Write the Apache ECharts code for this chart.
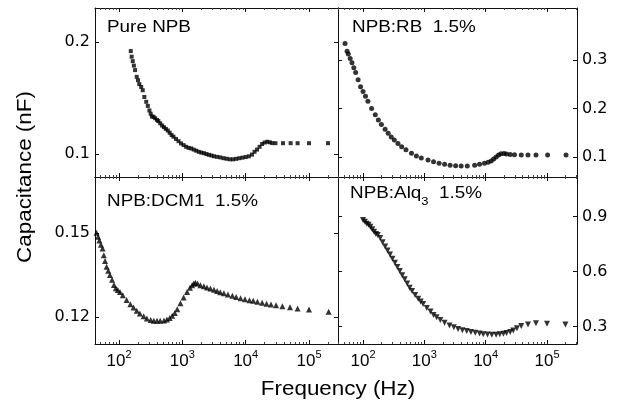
<!DOCTYPE html>
<html><head><meta charset="utf-8">
<script src="https://cdn.jsdelivr.net/npm/echarts@6/dist/echarts.min.js"></script>
<style>html,body{margin:0;padding:0;background:#fff}#c{width:621px;height:407px}</style>
</head><body><div id="c"></div>
<script>
// ---- data (x values are log10 of frequency in Hz) ----
const xTickExp = [2, 3, 4, 5];

const pureLogHz = [2.186,2.20,2.217,2.235,2.254,2.28,2.30,2.32,2.35,2.375,2.40,2.43,2.455,2.48,2.50,2.52,2.545,2.57,2.60,2.62,2.65,2.68,2.71,2.74,2.77,2.80,2.83,2.86,2.90,2.94,2.98,3.02,3.06,3.10,3.14,3.18,3.22,3.26,3.30,3.34,3.38,3.42,3.46,3.50,3.55,3.60,3.65,3.70,3.75,3.80,3.85,3.90,3.95,4.00,4.05,4.10,4.14,4.18,4.22,4.26,4.30,4.34,4.38,4.42,4.47,4.59,4.71,4.82,5.00,5.30];
const pureC = [0.192,0.187,0.183,0.179,0.175,0.169,0.166,0.1625,0.160,0.157,0.151,0.1467,0.143,0.139,0.136,0.1335,0.1333,0.132,0.1305,0.1295,0.1275,0.1255,0.124,0.1225,0.121,0.119,0.117,0.1155,0.1135,0.1115,0.1095,0.108,0.1065,0.1055,0.105,0.104,0.103,0.102,0.1013,0.1008,0.100,0.0993,0.0987,0.098,0.0975,0.097,0.0963,0.0958,0.0953,0.0953,0.0957,0.0963,0.0968,0.0973,0.098,0.0995,0.102,0.104,0.1065,0.109,0.1103,0.111,0.1105,0.1098,0.1097,0.1097,0.1097,0.1097,0.1097,0.1097];

const rbLogHz = [1.707,1.74,1.76,1.79,1.82,1.85,1.88,1.92,1.96,2.00,2.04,2.08,2.14,2.20,2.25,2.30,2.36,2.41,2.46,2.51,2.57,2.63,2.70,2.79,2.87,2.95,3.06,3.15,3.24,3.33,3.42,3.51,3.60,3.70,3.82,3.90,3.98,4.04,4.09,4.13,4.17,4.21,4.25,4.30,4.34,4.40,4.47,4.58,4.69,4.82,5.01,5.31];
const rbC = [0.334,0.318,0.312,0.303,0.294,0.284,0.274,0.259,0.245,0.235,0.225,0.215,0.200,0.187,0.176,0.167,0.157,0.149,0.141,0.135,0.128,0.121,0.115,0.1076,0.102,0.098,0.0938,0.090,0.087,0.085,0.083,0.082,0.0814,0.0815,0.083,0.085,0.087,0.089,0.092,0.096,0.100,0.104,0.1065,0.107,0.106,0.105,0.1045,0.104,0.104,0.104,0.104,0.104];

const dcmLogHz = [1.646,1.67,1.69,1.715,1.74,1.76,1.78,1.805,1.83,1.857,1.89,1.92,1.95,1.98,2.016,2.06,2.12,2.18,2.23,2.28,2.33,2.39,2.44,2.50,2.55,2.60,2.65,2.71,2.757,2.80,2.84,2.88,2.92,2.97,3.02,3.075,3.12,3.154,3.18,3.206,3.24,3.286,3.34,3.39,3.444,3.50,3.55,3.60,3.656,3.72,3.79,3.85,3.92,3.99,4.06,4.12,4.186,4.26,4.33,4.40,4.48,4.58,4.70,4.82,5.00,5.31];
const dcmC = [0.1501,0.1487,0.1473,0.1458,0.1445,0.1421,0.140,0.138,0.1365,0.135,0.1333,0.1315,0.1303,0.1297,0.129,0.1278,0.1261,0.1246,0.1234,0.1223,0.1213,0.1203,0.1195,0.119,0.1187,0.1187,0.1187,0.1188,0.1191,0.1197,0.1205,0.1215,0.1228,0.1249,0.127,0.129,0.1305,0.1314,0.132,0.1323,0.132,0.1314,0.131,0.1306,0.1302,0.1298,0.1293,0.1289,0.1285,0.1281,0.1276,0.1272,0.1267,0.1264,0.126,0.1258,0.1255,0.1251,0.1248,0.1245,0.1242,0.1239,0.1235,0.1231,0.1227,0.1219];

const alqLogHz = [2.00,2.03,2.06,2.09,2.12,2.15,2.18,2.21,2.24,2.28,2.32,2.36,2.40,2.44,2.48,2.52,2.56,2.60,2.64,2.68,2.72,2.76,2.80,2.85,2.90,2.94,2.98,3.04,3.10,3.15,3.20,3.26,3.33,3.41,3.48,3.55,3.62,3.69,3.76,3.83,3.90,3.96,4.03,4.10,4.17,4.23,4.29,4.34,4.40,4.45,4.51,4.58,4.69,4.82,5.00,5.30];
const alqC = [0.882,0.872,0.862,0.856,0.845,0.832,0.818,0.806,0.800,0.783,0.760,0.737,0.715,0.693,0.670,0.648,0.625,0.603,0.580,0.558,0.535,0.512,0.494,0.472,0.452,0.436,0.423,0.401,0.381,0.363,0.350,0.335,0.320,0.305,0.295,0.286,0.279,0.275,0.270,0.265,0.261,0.257,0.256,0.255,0.255,0.257,0.260,0.264,0.270,0.278,0.290,0.302,0.311,0.318,0.315,0.311];

const yTicksPure = [0.1, 0.2];
const yTicksRB = [0.1, 0.2, 0.3];
const yTicksDCM = [0.12, 0.15];
const yTicksAlq = [0.3, 0.6, 0.9];

const panelLabels = ['Pure NPB', 'NPB:RB  1.5%', 'NPB:DCM1  1.5%', 'NPB:Alq{s|3}  1.5%'];
const xTitle = 'Frequency (Hz)';
const yTitle = 'Capacitance (nF)';

// ---- layout ----
const panels = [
  {grid:{left:95, top:8, width:243, height:169}, xr:[1.621,5.458], yr:[0.0795,0.2305], yt:yTicksPure, xs:pureLogHz, ys:pureC, sym:'rect', size:4, rot:0, col:0, row:0, lab:[107,28]},
  {grid:{left:338, top:8, width:239, height:169}, xr:[1.592,5.489], yr:[0.0588,0.407], yt:yTicksRB, xs:rbLogHz, ys:rbC, sym:'circle', size:5, rot:0, col:1, row:0, lab:[352,28]},
  {grid:{left:95, top:177, width:243, height:167}, xr:[1.621,5.458], yr:[0.1104,0.17], yt:yTicksDCM, xs:dcmLogHz, ys:dcmC, sym:'triangle', size:6, rot:0, col:0, row:1, lab:[107,202]},
  {grid:{left:338, top:177, width:239, height:167}, xr:[1.592,5.489], yr:[0.204,1.117], yt:yTicksAlq, xs:alqLogHz, ys:alqC, sym:'triangle', size:6, rot:180, col:1, row:1, lab:[350,194]}
];

const minorVals = [];
for (let n = 1; n <= 5; n++) for (let k = 2; k <= 9; k++) minorVals.push(Math.log10(k) + n);

const lineStyle = {color:'#111', width:1};
const grids = [], xAxes = [], yAxes = [], series = [], graphics = [];

panels.forEach((p, i) => {
  grids.push(p.grid);
  const inRange = minorVals.filter(v => v > p.xr[0] && v < p.xr[1]);
  ['bottom','top'].forEach(pos => {
    xAxes.push({
      type:'value', gridIndex:i, position:pos, min:p.xr[0], max:p.xr[1],
      axisLine:{show:true, onZero:false, lineStyle},
      axisTick:{show:true, inside:true, length:4, customValues:xTickExp, lineStyle},
      axisLabel:{show: pos === 'bottom' && p.row === 1, customValues:xTickExp, margin:5,
        formatter: v => '{b|10}{s|' + Math.round(v) + '}',
        rich:{b:{fontSize:17, fontFamily:'Liberation Sans', color:'#000', lineHeight:24},
              s:{fontSize:11, fontFamily:'Liberation Sans', color:'#000', verticalAlign:'top', lineHeight:24}}},
      splitLine:{show:false}
    });
    xAxes.push({
      type:'value', gridIndex:i, position:pos, min:p.xr[0], max:p.xr[1],
      axisLine:{show:false, onZero:false},
      axisTick:{show:true, inside:true, length:2, customValues:inRange, lineStyle:{color:'#444', width:1}},
      axisLabel:{show:false}, splitLine:{show:false}
    });
  });
  ['left','right'].forEach(pos => {
    const showLab = (pos === 'left' && p.col === 0) || (pos === 'right' && p.col === 1);
    yAxes.push({
      type:'value', gridIndex:i, position:pos, min:p.yr[0], max:p.yr[1],
      axisLine:{show:true, onZero:false, lineStyle},
      axisTick:{show:true, inside:true, length:4, customValues:p.yt, lineStyle},
      axisLabel:{show:showLab, customValues:p.yt, margin:5, color:'#000', fontSize:16, fontFamily:'DejaVu Sans',
        formatter: v => String(+(+v).toFixed(2))},
      splitLine:{show:false}
    });
  });
  series.push({
    type:'scatter', xAxisIndex:i*4, yAxisIndex:i*2,
    data: p.xs.map((x, j) => [x, p.ys[j]]),
    symbol:p.sym, symbolSize:p.size, symbolRotate:p.rot,
    itemStyle:{color:'#000'}, silent:true
  });
  graphics.push({
    type:'text', x:p.lab[0], y:p.lab[1], scaleX:1.18,
    style:{text:panelLabels[i], fontSize:16, fontFamily:'Liberation Sans', fill:'#000',
      textVerticalAlign:'middle', textAlign:'left',
      rich:{s:{fontSize:11, fontFamily:'Liberation Sans', fill:'#000', verticalAlign:'bottom', lineHeight:27}}}
  });
});

graphics.push({type:'text', x:338, y:389, scaleX:1.12,
  style:{text:xTitle, fontSize:20, fontFamily:'Liberation Sans', fill:'#000', textAlign:'center', textVerticalAlign:'middle'}});
graphics.push({type:'text', x:25, y:177, rotation:Math.PI/2, scaleX:1.12,
  style:{text:yTitle, fontSize:20, fontFamily:'Liberation Sans', fill:'#000', textAlign:'center', textVerticalAlign:'middle'}});

const chart = echarts.init(document.getElementById('c'), null, {renderer:'canvas'});
chart.setOption({
  animation:false,
  backgroundColor:'#fff',
  grid:grids, xAxis:xAxes, yAxis:yAxes, series, graphic:graphics
});
</script></body></html>
